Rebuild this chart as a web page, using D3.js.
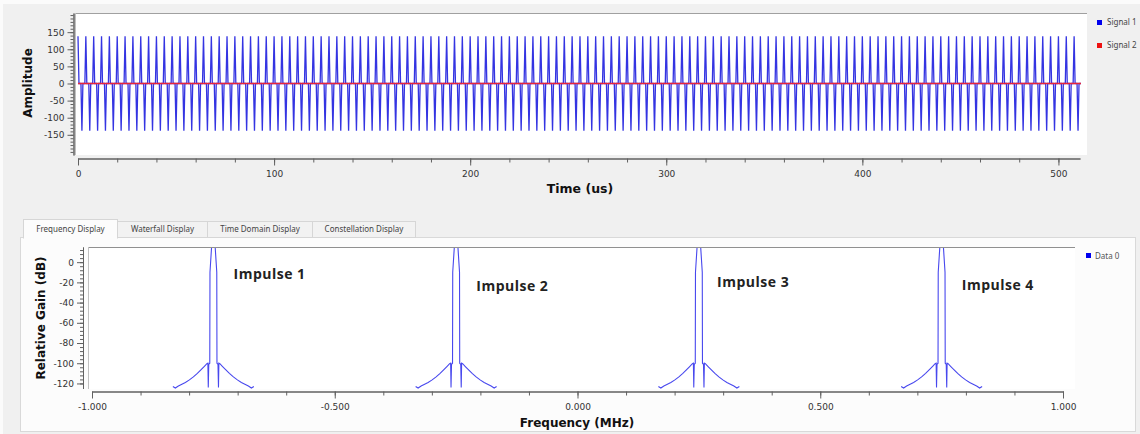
<!DOCTYPE html>
<html><head><meta charset="utf-8">
<script src="https://cdn.jsdelivr.net/npm/d3@7"></script>
<style>
body{margin:0;background:#f0f0f0;}
svg{display:block;}
</style></head><body>
<svg id="c" width="1140" height="434"></svg>
<script>
// ---------------- DATA ----------------
// Time domain (top): samples every 0.5 us, 0 .. 511.5 us
const sampleStepUs = 0.5;
const signal1 = [
138,0,0,0,-138,0,0,0,138,0,0,0,-138,0,0,0,138,0,0,0,-138,0,0,0,138,0,0,0,-138,0,0,0,138,0,0,0,-138,0,0,0,138,0,0,0,-138,0,0,0,138,0,0,0,-138,0,0,0,138,0,0,0,-138,0,0,0,
138,0,0,0,-138,0,0,0,138,0,0,0,-138,0,0,0,138,0,0,0,-138,0,0,0,138,0,0,0,-138,0,0,0,138,0,0,0,-138,0,0,0,138,0,0,0,-138,0,0,0,138,0,0,0,-138,0,0,0,138,0,0,0,-138,0,0,0,
138,0,0,0,-138,0,0,0,138,0,0,0,-138,0,0,0,138,0,0,0,-138,0,0,0,138,0,0,0,-138,0,0,0,138,0,0,0,-138,0,0,0,138,0,0,0,-138,0,0,0,138,0,0,0,-138,0,0,0,138,0,0,0,-138,0,0,0,
138,0,0,0,-138,0,0,0,138,0,0,0,-138,0,0,0,138,0,0,0,-138,0,0,0,138,0,0,0,-138,0,0,0,138,0,0,0,-138,0,0,0,138,0,0,0,-138,0,0,0,138,0,0,0,-138,0,0,0,138,0,0,0,-138,0,0,0,
138,0,0,0,-138,0,0,0,138,0,0,0,-138,0,0,0,138,0,0,0,-138,0,0,0,138,0,0,0,-138,0,0,0,138,0,0,0,-138,0,0,0,138,0,0,0,-138,0,0,0,138,0,0,0,-138,0,0,0,138,0,0,0,-138,0,0,0,
138,0,0,0,-138,0,0,0,138,0,0,0,-138,0,0,0,138,0,0,0,-138,0,0,0,138,0,0,0,-138,0,0,0,138,0,0,0,-138,0,0,0,138,0,0,0,-138,0,0,0,138,0,0,0,-138,0,0,0,138,0,0,0,-138,0,0,0,
138,0,0,0,-138,0,0,0,138,0,0,0,-138,0,0,0,138,0,0,0,-138,0,0,0,138,0,0,0,-138,0,0,0,138,0,0,0,-138,0,0,0,138,0,0,0,-138,0,0,0,138,0,0,0,-138,0,0,0,138,0,0,0,-138,0,0,0,
138,0,0,0,-138,0,0,0,138,0,0,0,-138,0,0,0,138,0,0,0,-138,0,0,0,138,0,0,0,-138,0,0,0,138,0,0,0,-138,0,0,0,138,0,0,0,-138,0,0,0,138,0,0,0,-138,0,0,0,138,0,0,0,-138,0,0,0,
138,0,0,0,-138,0,0,0,138,0,0,0,-138,0,0,0,138,0,0,0,-138,0,0,0,138,0,0,0,-138,0,0,0,138,0,0,0,-138,0,0,0,138,0,0,0,-138,0,0,0,138,0,0,0,-138,0,0,0,138,0,0,0,-138,0,0,0,
138,0,0,0,-138,0,0,0,138,0,0,0,-138,0,0,0,138,0,0,0,-138,0,0,0,138,0,0,0,-138,0,0,0,138,0,0,0,-138,0,0,0,138,0,0,0,-138,0,0,0,138,0,0,0,-138,0,0,0,138,0,0,0,-138,0,0,0,
138,0,0,0,-138,0,0,0,138,0,0,0,-138,0,0,0,138,0,0,0,-138,0,0,0,138,0,0,0,-138,0,0,0,138,0,0,0,-138,0,0,0,138,0,0,0,-138,0,0,0,138,0,0,0,-138,0,0,0,138,0,0,0,-138,0,0,0,
138,0,0,0,-138,0,0,0,138,0,0,0,-138,0,0,0,138,0,0,0,-138,0,0,0,138,0,0,0,-138,0,0,0,138,0,0,0,-138,0,0,0,138,0,0,0,-138,0,0,0,138,0,0,0,-138,0,0,0,138,0,0,0,-138,0,0,0,
138,0,0,0,-138,0,0,0,138,0,0,0,-138,0,0,0,138,0,0,0,-138,0,0,0,138,0,0,0,-138,0,0,0,138,0,0,0,-138,0,0,0,138,0,0,0,-138,0,0,0,138,0,0,0,-138,0,0,0,138,0,0,0,-138,0,0,0,
138,0,0,0,-138,0,0,0,138,0,0,0,-138,0,0,0,138,0,0,0,-138,0,0,0,138,0,0,0,-138,0,0,0,138,0,0,0,-138,0,0,0,138,0,0,0,-138,0,0,0,138,0,0,0,-138,0,0,0,138,0,0,0,-138,0,0,0,
138,0,0,0,-138,0,0,0,138,0,0,0,-138,0,0,0,138,0,0,0,-138,0,0,0,138,0,0,0,-138,0,0,0,138,0,0,0,-138,0,0,0,138,0,0,0,-138,0,0,0,138,0,0,0,-138,0,0,0,138,0,0,0,-138,0,0,0,
138,0,0,0,-138,0,0,0,138,0,0,0,-138,0,0,0,138,0,0,0,-138,0,0,0,138,0,0,0,-138,0,0,0,138,0,0,0,-138,0,0,0,138,0,0,0,-138,0,0,0,138,0,0,0,-138,0,0,0,138,0,0,0,-138,0,0,0
];
const signal2 = [
0,0,0,0,0,0,0,0,0,0,0,0,0,0,0,0,0,0,0,0,0,0,0,0,0,0,0,0,0,0,0,0,0,0,0,0,0,0,0,0,0,0,0,0,0,0,0,0,0,0,0,0,0,0,0,0,0,0,0,0,0,0,0,0,
0,0,0,0,0,0,0,0,0,0,0,0,0,0,0,0,0,0,0,0,0,0,0,0,0,0,0,0,0,0,0,0,0,0,0,0,0,0,0,0,0,0,0,0,0,0,0,0,0,0,0,0,0,0,0,0,0,0,0,0,0,0,0,0,
0,0,0,0,0,0,0,0,0,0,0,0,0,0,0,0,0,0,0,0,0,0,0,0,0,0,0,0,0,0,0,0,0,0,0,0,0,0,0,0,0,0,0,0,0,0,0,0,0,0,0,0,0,0,0,0,0,0,0,0,0,0,0,0,
0,0,0,0,0,0,0,0,0,0,0,0,0,0,0,0,0,0,0,0,0,0,0,0,0,0,0,0,0,0,0,0,0,0,0,0,0,0,0,0,0,0,0,0,0,0,0,0,0,0,0,0,0,0,0,0,0,0,0,0,0,0,0,0,
0,0,0,0,0,0,0,0,0,0,0,0,0,0,0,0,0,0,0,0,0,0,0,0,0,0,0,0,0,0,0,0,0,0,0,0,0,0,0,0,0,0,0,0,0,0,0,0,0,0,0,0,0,0,0,0,0,0,0,0,0,0,0,0,
0,0,0,0,0,0,0,0,0,0,0,0,0,0,0,0,0,0,0,0,0,0,0,0,0,0,0,0,0,0,0,0,0,0,0,0,0,0,0,0,0,0,0,0,0,0,0,0,0,0,0,0,0,0,0,0,0,0,0,0,0,0,0,0,
0,0,0,0,0,0,0,0,0,0,0,0,0,0,0,0,0,0,0,0,0,0,0,0,0,0,0,0,0,0,0,0,0,0,0,0,0,0,0,0,0,0,0,0,0,0,0,0,0,0,0,0,0,0,0,0,0,0,0,0,0,0,0,0,
0,0,0,0,0,0,0,0,0,0,0,0,0,0,0,0,0,0,0,0,0,0,0,0,0,0,0,0,0,0,0,0,0,0,0,0,0,0,0,0,0,0,0,0,0,0,0,0,0,0,0,0,0,0,0,0,0,0,0,0,0,0,0,0,
0,0,0,0,0,0,0,0,0,0,0,0,0,0,0,0,0,0,0,0,0,0,0,0,0,0,0,0,0,0,0,0,0,0,0,0,0,0,0,0,0,0,0,0,0,0,0,0,0,0,0,0,0,0,0,0,0,0,0,0,0,0,0,0,
0,0,0,0,0,0,0,0,0,0,0,0,0,0,0,0,0,0,0,0,0,0,0,0,0,0,0,0,0,0,0,0,0,0,0,0,0,0,0,0,0,0,0,0,0,0,0,0,0,0,0,0,0,0,0,0,0,0,0,0,0,0,0,0,
0,0,0,0,0,0,0,0,0,0,0,0,0,0,0,0,0,0,0,0,0,0,0,0,0,0,0,0,0,0,0,0,0,0,0,0,0,0,0,0,0,0,0,0,0,0,0,0,0,0,0,0,0,0,0,0,0,0,0,0,0,0,0,0,
0,0,0,0,0,0,0,0,0,0,0,0,0,0,0,0,0,0,0,0,0,0,0,0,0,0,0,0,0,0,0,0,0,0,0,0,0,0,0,0,0,0,0,0,0,0,0,0,0,0,0,0,0,0,0,0,0,0,0,0,0,0,0,0,
0,0,0,0,0,0,0,0,0,0,0,0,0,0,0,0,0,0,0,0,0,0,0,0,0,0,0,0,0,0,0,0,0,0,0,0,0,0,0,0,0,0,0,0,0,0,0,0,0,0,0,0,0,0,0,0,0,0,0,0,0,0,0,0,
0,0,0,0,0,0,0,0,0,0,0,0,0,0,0,0,0,0,0,0,0,0,0,0,0,0,0,0,0,0,0,0,0,0,0,0,0,0,0,0,0,0,0,0,0,0,0,0,0,0,0,0,0,0,0,0,0,0,0,0,0,0,0,0,
0,0,0,0,0,0,0,0,0,0,0,0,0,0,0,0,0,0,0,0,0,0,0,0,0,0,0,0,0,0,0,0,0,0,0,0,0,0,0,0,0,0,0,0,0,0,0,0,0,0,0,0,0,0,0,0,0,0,0,0,0,0,0,0,
0,0,0,0,0,0,0,0,0,0,0,0,0,0,0,0,0,0,0,0,0,0,0,0,0,0,0,0,0,0,0,0,0,0,0,0,0,0,0,0,0,0,0,0,0,0,0,0,0,0,0,0,0,0,0,0,0,0,0,0,0,0,0,0
];
const timeTicks = [0, 100, 200, 300, 400, 500];
const ampTicks = [-150, -100, -50, 0, 50, 100, 150];
const timeSeriesNames = ["Signal 1", "Signal 2"];

// Frequency domain (bottom)
const impulseCentersMHz = [-0.75, -0.25, 0.25, 0.75];
const impulseNames = ["Impulse 1", "Impulse 2", "Impulse 3", "Impulse 4"];
const lobeOffsetMHz = [-0.0834, -0.0783, -0.0721, -0.0659, -0.0577, -0.0494, -0.0412, -0.0330, -0.0247, -0.0185,
  -0.0134, -0.0113, -0.0105, -0.0095, -0.0074, -0.0070, -0.0037, -0.0010,
  0.0010, 0.0037, 0.0070, 0.0074, 0.0095, 0.0105, 0.0113, 0.0134,
  0.0185, 0.0247, 0.0330, 0.0412, 0.0494, 0.0577, 0.0659, 0.0721, 0.0783, 0.0834];
const lobeGainDb = [-123, -124.5, -122.5, -121, -119, -116.5, -113.5, -110, -106, -103,
  -100.5, -100, -124, -101, -100, -10, 15, 40,
  40, 15, -10, -100, -101, -124, -100, -100.5,
  -103, -106, -110, -113.5, -116.5, -119, -121, -122.5, -124.5, -123];
const freqTicks = [-1, -0.5, 0, 0.5, 1];
const gainTicks = [-120, -100, -80, -60, -40, -20, 0];
const labelFreqMHz = [-0.7085, -0.2085, 0.2875, 0.7915];
const labelGainDb = [-16.5, -28.5, -24.5, -27.5];
const tabNames = ["Frequency Display", "Waterfall Display", "Time Domain Display", "Constellation Display"];

// ---------------- DRAW ----------------
const svg = d3.select("#c");
const W = 1140, H = 434;
const tickFont = "'DejaVu Sans', Verdana, sans-serif";
const uiFont = "'Noto Sans', 'Open Sans', sans-serif";

svg.append("rect").attr("width", W).attr("height", H).attr("fill", "#f0f0f0");
svg.append("rect").attr("width", W).attr("height", 4).attr("fill", "#fbfbfb");
svg.append("rect").attr("width", 3).attr("height", H).attr("fill", "#fbfbfb");

// ===== TOP PLOT =====
const tx = d3.scaleLinear().domain([0, 511]).range([78, 1080]);
const ty = d3.scaleLinear().domain([-209, 206]).range([155, 13]);

svg.append("rect").attr("x", 75).attr("y", 13).attr("width", 1012).attr("height", 142).attr("fill", "#ffffff");
svg.append("line").attr("x1", 75).attr("x2", 1087).attr("y1", 13.5).attr("y2", 13.5).attr("stroke", "#a0a0a0");
svg.append("line").attr("x1", 75.5).attr("x2", 75.5).attr("y1", 13).attr("y2", 155).attr("stroke", "#c0c0c0");

svg.append("clipPath").attr("id", "clipTop").append("rect")
  .attr("x", 75).attr("y", 14).attr("width", 1012).attr("height", 141);

const topLine = d3.line().x((d, i) => tx(i * sampleStepUs)).y(d => ty(d));
const gTop = svg.append("g").attr("clip-path", "url(#clipTop)");
gTop.append("path").datum(signal1).attr("d", topLine)
  .attr("fill", "none").attr("stroke", "#3434e2").attr("stroke-width", 1.3);
gTop.append("path").datum(signal2).attr("d", topLine)
  .attr("fill", "none").attr("stroke", "#e8243a").attr("stroke-width", 1.6);

const intFmt = d => String(d);
function styleAxis(g) {
  g.selectAll("path.domain").attr("stroke", "#606060");
  g.selectAll(".tick line").attr("stroke", "#606060");
  g.selectAll("text").attr("font-family", tickFont).attr("font-size", 9).attr("fill", "#333");
}

// x axis (time)
const minorTime = d3.range(0, 511, 20);
const gxMinor = svg.append("g").attr("transform", "translate(0,158.5)")
  .call(d3.axisBottom(tx).tickValues(minorTime).tickSize(4).tickSizeOuter(0).tickFormat(""));
const gx = svg.append("g").attr("transform", "translate(0,158.5)")
  .call(d3.axisBottom(tx).tickValues(timeTicks).tickSize(7).tickSizeOuter(0).tickPadding(5).tickFormat(intFmt));
styleAxis(gxMinor); styleAxis(gx);

// y axis (amplitude)
const minorAmp = d3.range(-200, 201, 10);
const gyMinor = svg.append("g").attr("transform", "translate(73.5,0)")
  .call(d3.axisLeft(ty).tickValues(minorAmp).tickSize(3).tickSizeOuter(0).tickFormat(""));
const gy = svg.append("g").attr("transform", "translate(73.5,0)")
  .call(d3.axisLeft(ty).tickValues(ampTicks).tickSize(6).tickSizeOuter(0).tickPadding(3).tickFormat(intFmt));
styleAxis(gyMinor); styleAxis(gy);

svg.append("text").attr("transform", "translate(31.5,83) rotate(-90)")
  .attr("text-anchor", "middle").attr("font-family", tickFont).attr("font-weight", "bold")
  .attr("font-size", 12).attr("fill", "#111").text("Amplitude");
svg.append("text").attr("x", 580).attr("y", 193)
  .attr("text-anchor", "middle").attr("font-family", tickFont).attr("font-weight", "bold")
  .attr("font-size", 12.5).attr("fill", "#111").text("Time (us)");

// legend top
const topColors = ["#0000ee", "#ee1111"];
timeSeriesNames.forEach((n, i) => {
  const yy = 20 + i * 23;
  svg.append("rect").attr("x", 1097).attr("y", yy).attr("width", 5).attr("height", 5).attr("fill", topColors[i]);
  svg.append("text").attr("x", 1107).attr("y", yy + 5).attr("font-family", uiFont)
    .attr("font-size", 8).attr("fill", "#444").text(n);
});

// ===== BOTTOM PANEL =====
svg.append("rect").attr("x", 20.5).attr("y", 237.5).attr("width", 1115).attr("height", 194)
  .attr("fill", "#fcfcfc").attr("stroke", "#d9d9d9");
const tabX = [23, 117, 207, 312, 415];
tabNames.forEach((n, i) => {
  const sel = i === 0;
  svg.append("rect").attr("x", tabX[i] + 0.5).attr("y", sel ? 219.5 : 221.5)
    .attr("width", tabX[i + 1] - tabX[i]).attr("height", sel ? 18.5 : 16)
    .attr("fill", sel ? "#fcfcfc" : "#f2f2f2").attr("stroke", "#d6d6d6");
  svg.append("text").attr("x", (tabX[i] + tabX[i + 1]) / 2 + 0.5).attr("y", 232)
    .attr("text-anchor", "middle").attr("font-family", uiFont).attr("font-size", 8)
    .attr("fill", "#444").text(n);
});
svg.append("rect").attr("x", 24).attr("y", 236).attr("width", 93).attr("height", 3).attr("fill", "#fcfcfc");

const fx = d3.scaleLinear().domain([-1, 1]).range([92, 1063]);
const fy = d3.scaleLinear().domain([-125, 15]).range([388.5, 247]);

svg.append("rect").attr("x", 88).attr("y", 247).attr("width", 987).attr("height", 142).attr("fill", "#ffffff");
svg.append("line").attr("x1", 88).attr("x2", 1075).attr("y1", 247.5).attr("y2", 247.5).attr("stroke", "#909090");
svg.append("line").attr("x1", 88.5).attr("x2", 88.5).attr("y1", 247).attr("y2", 389).attr("stroke", "#c0c0c0");

svg.append("clipPath").attr("id", "clipBot").append("rect")
  .attr("x", 89).attr("y", 248).attr("width", 986).attr("height", 141);

const specLine = d3.line().x(d => fx(d[0])).y(d => fy(d[1]));
const gBot = svg.append("g").attr("clip-path", "url(#clipBot)");
impulseCentersMHz.forEach(c => {
  const pts = lobeOffsetMHz.map((o, j) => [c + o, lobeGainDb[j]]);
  gBot.append("path").datum(pts).attr("d", specLine)
    .attr("fill", "none").attr("stroke", "#4848ee").attr("stroke-width", 1.1);
});

// x axis (freq)
const minorFreq = d3.range(-10, 11).map(v => v / 10);
const fxMinor = svg.append("g").attr("transform", "translate(0,391.5)")
  .call(d3.axisBottom(fx).tickValues(minorFreq).tickSize(4).tickSizeOuter(0).tickFormat(""));
const fxMajor = svg.append("g").attr("transform", "translate(0,391.5)")
  .call(d3.axisBottom(fx).tickValues(freqTicks).tickSize(7).tickSizeOuter(0).tickPadding(5).tickFormat(d => d.toFixed(3)));
styleAxis(fxMinor); styleAxis(fxMajor);

// y axis (gain)
const minorGain = d3.range(-120, 13, 4);
const fyMinor = svg.append("g").attr("transform", "translate(83,0)")
  .call(d3.axisLeft(fy).tickValues(minorGain).tickSize(3).tickSizeOuter(0).tickFormat(""));
const fyMajor = svg.append("g").attr("transform", "translate(83,0)")
  .call(d3.axisLeft(fy).tickValues(gainTicks).tickSize(6).tickSizeOuter(0).tickPadding(3).tickFormat(intFmt));
styleAxis(fyMinor); styleAxis(fyMajor);

svg.append("text").attr("transform", "translate(44.5,318) rotate(-90)")
  .attr("text-anchor", "middle").attr("font-family", tickFont).attr("font-weight", "bold")
  .attr("font-size", 12).attr("fill", "#111").text("Relative Gain (dB)");
svg.append("text").attr("x", 577).attr("y", 427)
  .attr("text-anchor", "middle").attr("font-family", tickFont).attr("font-weight", "bold")
  .attr("font-size", 12).attr("fill", "#111").text("Frequency (MHz)");

// annotations
impulseNames.forEach((n, i) => {
  svg.append("text").attr("x", fx(labelFreqMHz[i])).attr("y", fy(labelGainDb[i]))
    .attr("font-family", "'Open Sans', sans-serif").attr("font-weight", 700)
    .attr("font-size", 14).attr("letter-spacing", 0.5).attr("fill", "#222").text(n);
});

// legend bottom
svg.append("rect").attr("x", 1086).attr("y", 253).attr("width", 5).attr("height", 5).attr("fill", "#0000ee");
svg.append("text").attr("x", 1095).attr("y", 258.5).attr("font-family", uiFont)
  .attr("font-size", 8).attr("fill", "#555").text("Data 0");
</script>
</body></html>
